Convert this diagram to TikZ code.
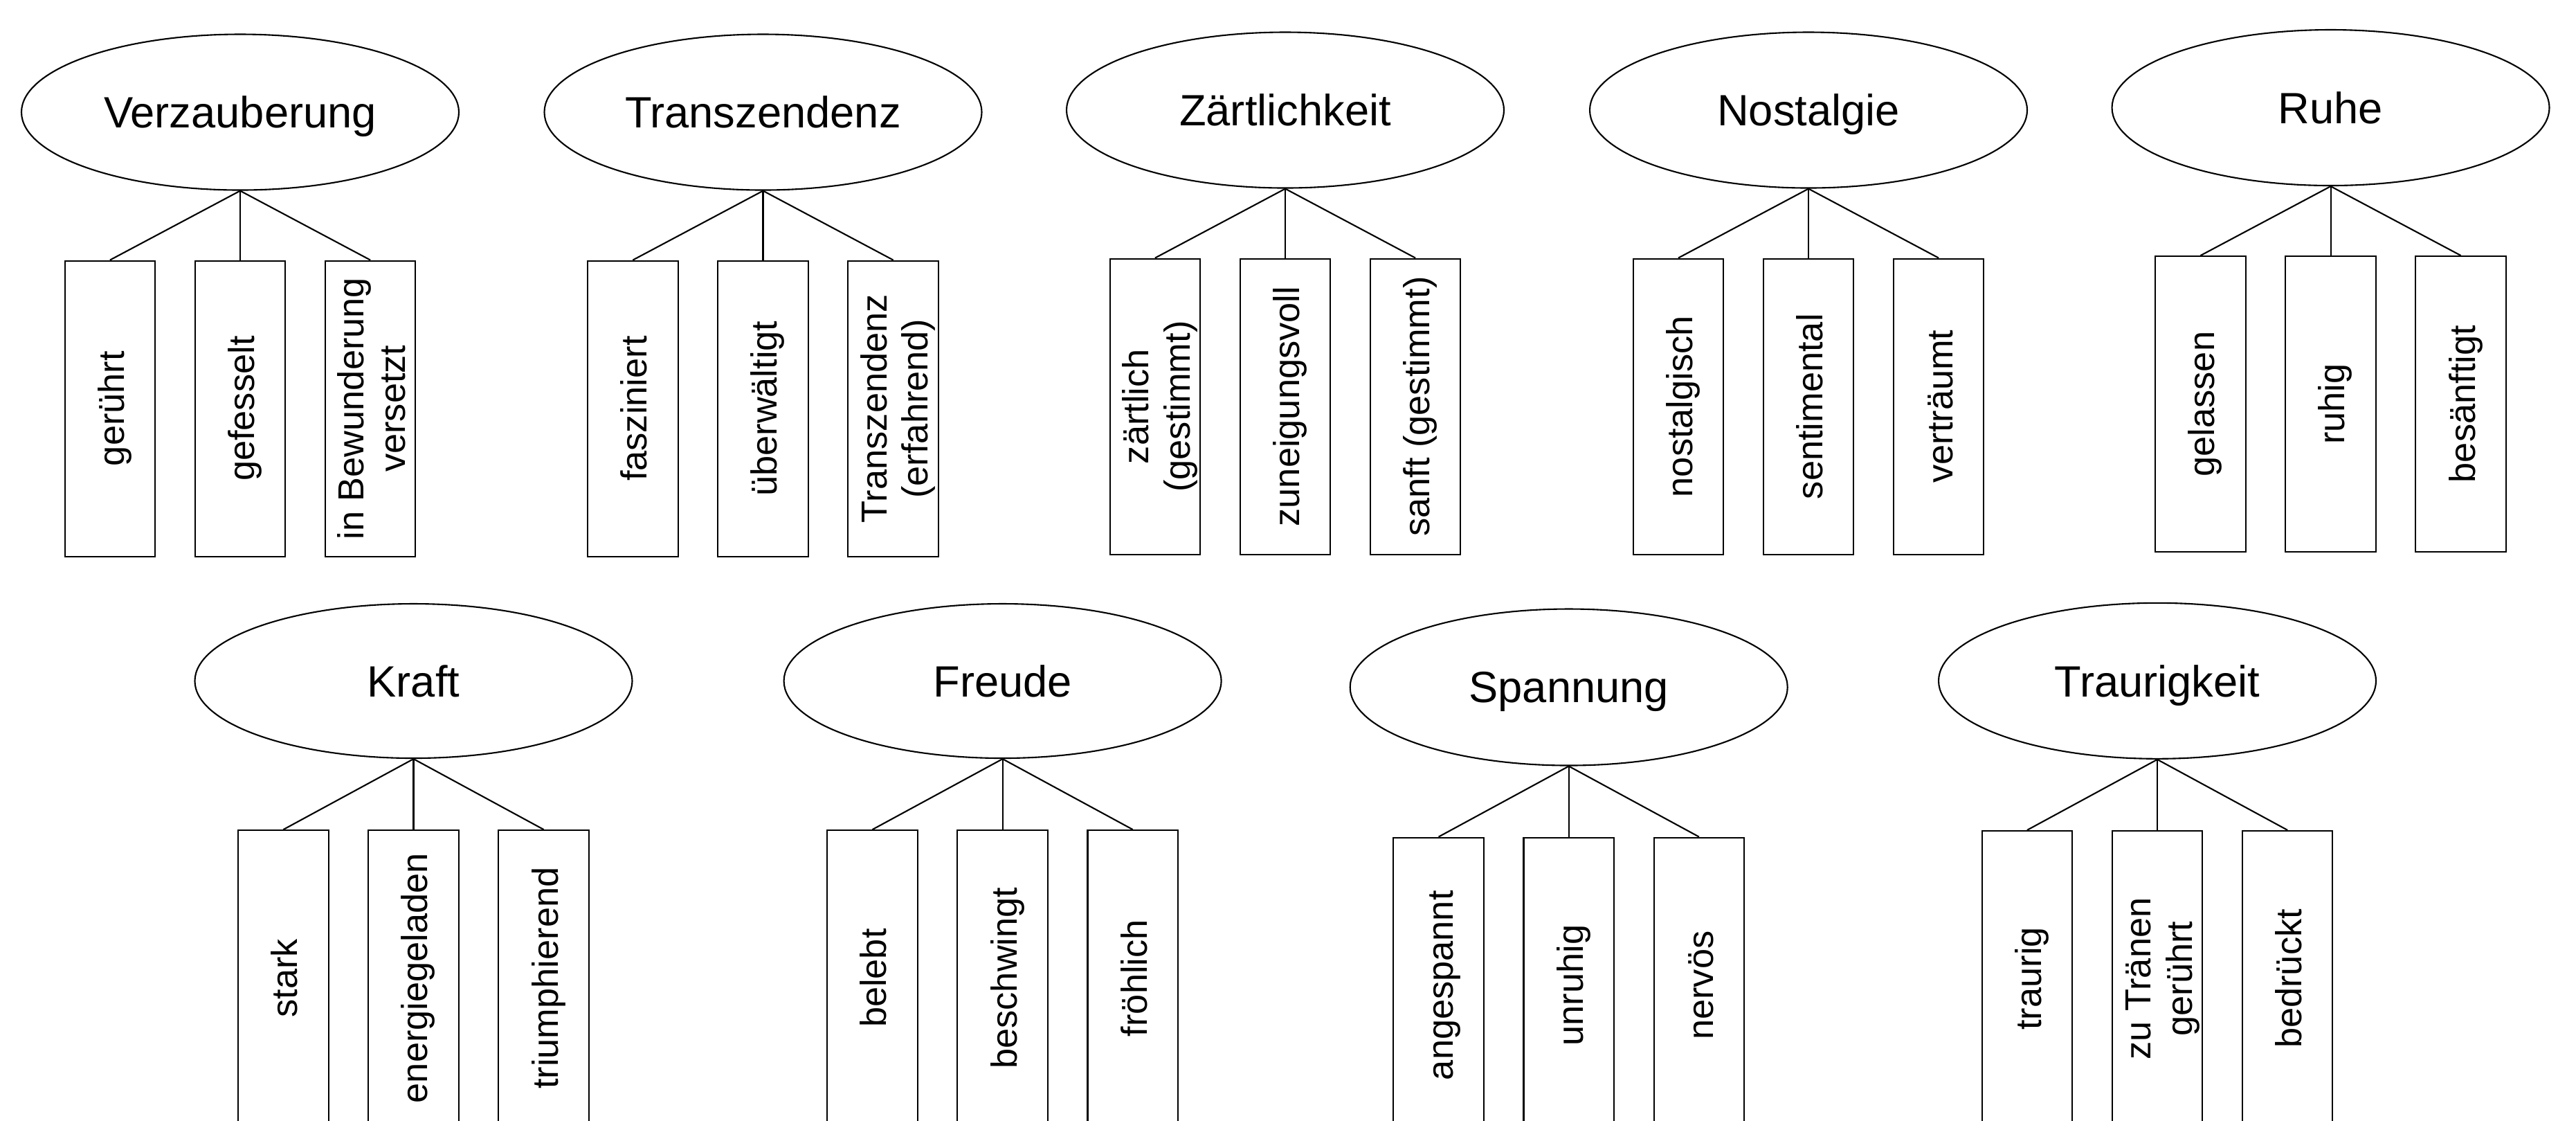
\documentclass[tikz,border=0pt]{standalone}
\usepackage{fontspec}
\setmainfont{Liberation Sans}
\usepackage{graphicx}
\usetikzlibrary{positioning, shapes.geometric}

\newcommand{\vlabel}[1]{\rotatebox{90}{\raisebox{-2.4pt}[\height][\depth]{\begin{tabular}{@{}c@{}}#1\end{tabular}}}}

\tikzset{
    emotion/.style={ellipse, draw, line width=0.6pt, minimum width=6.32cm, minimum height=2.25cm, inner sep=0pt, text depth=0pt, font=\fontsize{18}{21}\selectfont},
    leaf/.style={rectangle, draw, line width=0.6pt, minimum width=1.305cm, minimum height=4.27cm, inner sep=0pt, font=\fontsize{14.9}{17}\selectfont},
    link/.style={line width=0.6pt}
}

\begin{document}
\begin{tikzpicture}
        \useasboundingbox (0,0) rectangle (37.22,-16.18);
        \clip (0,0) rectangle (37.22,-16.18);

        % Verzauberung
        \node[emotion] (verz) at (3.47,-1.62) {Verzauberung};
        \node[leaf, below=1cm of verz] (verz2) {\vlabel{gefesselt}};
        \node[leaf, left=0.555cm of verz2] (verz1) {\vlabel{gerührt}};
        \node[leaf, right=0.555cm of verz2] (verz3) {\vlabel{in Bewunderung\\versetzt}};

        % Transzendenz
        \node[emotion] (tran) at (11.025,-1.62) {Transzendenz};
        \node[leaf, below=1cm of tran] (tran2) {\vlabel{überwältigt}};
        \node[leaf, left=0.555cm of tran2] (tran1) {\vlabel{fasziniert}};
        \node[leaf, right=0.555cm of tran2] (tran3) {\vlabel{Transzendenz\\(erfahrend)}};

        % Zaertlichkeit
        \node[emotion] (zaer) at (18.57,-1.59) {Zärtlichkeit};
        \node[leaf, below=1cm of zaer] (zaer2) {\vlabel{zuneigungsvoll}};
        \node[leaf, left=0.555cm of zaer2] (zaer1) {\vlabel{zärtlich\\(gestimmt)}};
        \node[leaf, right=0.555cm of zaer2] (zaer3) {\vlabel{sanft (gestimmt)}};

        % Nostalgie
        \node[emotion] (nost) at (26.13,-1.59) {Nostalgie};
        \node[leaf, below=1cm of nost] (nost2) {\vlabel{sentimental}};
        \node[leaf, left=0.555cm of nost2] (nost1) {\vlabel{nostalgisch}};
        \node[leaf, right=0.555cm of nost2] (nost3) {\vlabel{verträumt}};

        % Ruhe
        \node[emotion] (ruhe) at (33.675,-1.555) {Ruhe};
        \node[leaf, below=1cm of ruhe] (ruhe2) {\vlabel{ruhig}};
        \node[leaf, left=0.555cm of ruhe2] (ruhe1) {\vlabel{gelassen}};
        \node[leaf, right=0.555cm of ruhe2] (ruhe3) {\vlabel{besänftigt}};

        % Kraft
        \node[emotion, minimum height=2.23cm] (kraf) at (5.975,-9.835) {Kraft};
        \node[leaf, below=1.02cm of kraf] (kraf2) {\vlabel{energiegeladen}};
        \node[leaf, left=0.555cm of kraf2] (kraf1) {\vlabel{stark}};
        \node[leaf, right=0.555cm of kraf2] (kraf3) {\vlabel{triumphierend}};

        % Freude
        \node[emotion, minimum height=2.23cm] (freu) at (14.486,-9.835) {Freude};
        \node[leaf, below=1.02cm of freu] (freu2) {\vlabel{beschwingt}};
        \node[leaf, left=0.555cm of freu2] (freu1) {\vlabel{belebt}};
        \node[leaf, right=0.555cm of freu2] (freu3) {\vlabel{fröhlich}};

        % Spannung
        \node[emotion, minimum height=2.26cm] (span) at (22.667,-9.925) {Spannung};
        \node[leaf, below=1.02cm of span] (span2) {\vlabel{unruhig}};
        \node[leaf, left=0.555cm of span2] (span1) {\vlabel{angespannt}};
        \node[leaf, right=0.555cm of span2] (span3) {\vlabel{nervös}};

        % Traurigkeit
        \node[emotion, minimum height=2.25cm] (trau) at (31.17,-9.833) {Traurigkeit};
        \node[leaf, below=1.02cm of trau] (trau2) {\vlabel{zu Tränen\\gerührt}};
        \node[leaf, left=0.555cm of trau2] (trau1) {\vlabel{traurig}};
        \node[leaf, right=0.555cm of trau2] (trau3) {\vlabel{bedrückt}};

        % connectors
        \foreach \n in {verz,tran,zaer,nost,ruhe,kraf,freu,span,trau}
        {
            \foreach \i in {1,2,3}
                \draw[link] (\n.south) -- (\n\i.north);
        }
\end{tikzpicture}
\end{document}
